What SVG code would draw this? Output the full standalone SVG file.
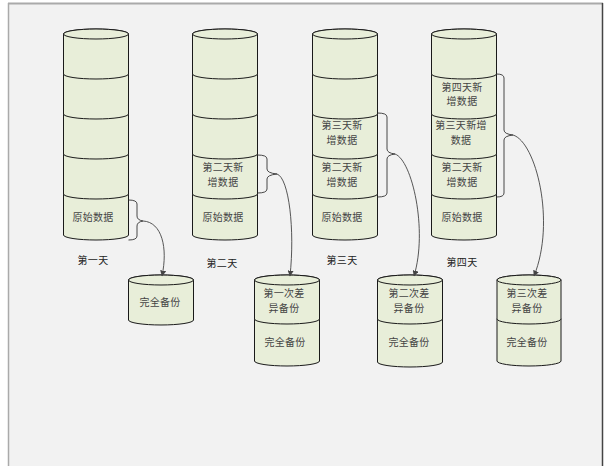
<svg xmlns="http://www.w3.org/2000/svg" width="613" height="470" viewBox="0 0 613 470">
<style>
.seg{fill:#e8eed9;stroke:#1a1a1a;stroke-width:1}
.top{fill:#e8eed9;stroke:#1a1a1a;stroke-width:1}
.t{font-family:"Noto Sans CJK SC","Liberation Sans",sans-serif;font-size:10px;letter-spacing:0.3px;fill:#444;text-anchor:middle}
.lbl{font-family:"Noto Sans CJK SC","Liberation Sans",sans-serif;font-size:10px;letter-spacing:0.3px;fill:#222;text-anchor:middle}
.br{fill:none;stroke:#333;stroke-width:0.9}
.cn{fill:none;stroke:#444;stroke-width:0.9;marker-end:url(#ah)}
</style>
<defs>
<marker id="ah" viewBox="0 0 10 10" refX="9" refY="5" markerWidth="6" markerHeight="6" orient="auto" markerUnits="userSpaceOnUse">
<path d="M0,0 L10,5 L0,10 Z" fill="#444"/>
</marker>
</defs>
<rect x="0" y="0" width="613" height="470" fill="#ffffff"/>
<rect x="8" y="3" width="595" height="463" fill="#f2f2f2"/>
<line x1="8" y1="3.5" x2="603" y2="3.5" stroke="#aaaaaa" stroke-width="2"/>
<line x1="8.5" y1="3" x2="8.5" y2="466" stroke="#aaaaaa" stroke-width="1.5"/>
<line x1="602.5" y1="3" x2="602.5" y2="466" stroke="#444444" stroke-width="1.5"/>

<g id="day1">
<path class="seg" d="M63.5,194 L63.5,235 A32.5,5 0 0 0 128.5,235 L128.5,194 A32.5,5 0 0 0 63.5,194 Z"/>
<path class="seg" d="M63.5,154 L63.5,194 A32.5,5 0 0 0 128.5,194 L128.5,154 A32.5,5 0 0 0 63.5,154 Z"/>
<path class="seg" d="M63.5,114 L63.5,154 A32.5,5 0 0 0 128.5,154 L128.5,114 A32.5,5 0 0 0 63.5,114 Z"/>
<path class="seg" d="M63.5,74 L63.5,114 A32.5,5 0 0 0 128.5,114 L128.5,74 A32.5,5 0 0 0 63.5,74 Z"/>
<path class="seg" d="M63.5,34 L63.5,74 A32.5,5 0 0 0 128.5,74 L128.5,34 A32.5,5 0 0 0 63.5,34 Z"/>
<ellipse class="top" cx="96" cy="34" rx="32.5" ry="5"/>
<text class="t" x="93" y="221">原始数据</text>
<text class="lbl" x="93" y="264">第一天</text>
</g>

<g id="day2">
<path class="seg" d="M192.5,194 L192.5,235 A32.5,5 0 0 0 257.5,235 L257.5,194 A32.5,5 0 0 0 192.5,194 Z"/>
<path class="seg" d="M192.5,154 L192.5,194 A32.5,5 0 0 0 257.5,194 L257.5,154 A32.5,5 0 0 0 192.5,154 Z"/>
<path class="seg" d="M192.5,114 L192.5,154 A32.5,5 0 0 0 257.5,154 L257.5,114 A32.5,5 0 0 0 192.5,114 Z"/>
<path class="seg" d="M192.5,74 L192.5,114 A32.5,5 0 0 0 257.5,114 L257.5,74 A32.5,5 0 0 0 192.5,74 Z"/>
<path class="seg" d="M192.5,34 L192.5,74 A32.5,5 0 0 0 257.5,74 L257.5,34 A32.5,5 0 0 0 192.5,34 Z"/>
<ellipse class="top" cx="225" cy="34" rx="32.5" ry="5"/>
<text class="t" x="223" y="171">第二天新</text>
<text class="t" x="223" y="186">增数据</text>
<text class="t" x="223" y="221">原始数据</text>
<text class="lbl" x="222" y="267">第二天</text>
</g>

<g id="day3">
<path class="seg" d="M312.5,194 L312.5,235 A32.5,5 0 0 0 377.5,235 L377.5,194 A32.5,5 0 0 0 312.5,194 Z"/>
<path class="seg" d="M312.5,154 L312.5,194 A32.5,5 0 0 0 377.5,194 L377.5,154 A32.5,5 0 0 0 312.5,154 Z"/>
<path class="seg" d="M312.5,114 L312.5,154 A32.5,5 0 0 0 377.5,154 L377.5,114 A32.5,5 0 0 0 312.5,114 Z"/>
<path class="seg" d="M312.5,74 L312.5,114 A32.5,5 0 0 0 377.5,114 L377.5,74 A32.5,5 0 0 0 312.5,74 Z"/>
<path class="seg" d="M312.5,34 L312.5,74 A32.5,5 0 0 0 377.5,74 L377.5,34 A32.5,5 0 0 0 312.5,34 Z"/>
<ellipse class="top" cx="345" cy="34" rx="32.5" ry="5"/>
<text class="t" x="342" y="129">第三天新</text>
<text class="t" x="342" y="143.5">增数据</text>
<text class="t" x="342" y="171">第二天新</text>
<text class="t" x="342" y="186">增数据</text>
<text class="t" x="342" y="221">原始数据</text>
<text class="lbl" x="342" y="264">第三天</text>
</g>

<g id="day4">
<path class="seg" d="M431.5,194 L431.5,235 A32.5,5 0 0 0 496.5,235 L496.5,194 A32.5,5 0 0 0 431.5,194 Z"/>
<path class="seg" d="M431.5,154 L431.5,194 A32.5,5 0 0 0 496.5,194 L496.5,154 A32.5,5 0 0 0 431.5,154 Z"/>
<path class="seg" d="M431.5,114 L431.5,154 A32.5,5 0 0 0 496.5,154 L496.5,114 A32.5,5 0 0 0 431.5,114 Z"/>
<path class="seg" d="M431.5,74 L431.5,114 A32.5,5 0 0 0 496.5,114 L496.5,74 A32.5,5 0 0 0 431.5,74 Z"/>
<path class="seg" d="M431.5,34 L431.5,74 A32.5,5 0 0 0 496.5,74 L496.5,34 A32.5,5 0 0 0 431.5,34 Z"/>
<ellipse class="top" cx="464" cy="34" rx="32.5" ry="5"/>
<text class="t" x="462" y="91">第四天新</text>
<text class="t" x="462" y="105">增数据</text>
<text class="t" x="461" y="129">第三天新增</text>
<text class="t" x="461" y="143.5">数据</text>
<text class="t" x="462" y="171">第二天新</text>
<text class="t" x="462" y="186">增数据</text>
<text class="t" x="462" y="221">原始数据</text>
<text class="lbl" x="462" y="266">第四天</text>
</g>

<g id="backup1">
<path class="seg" d="M128.5,280 L128.5,320 A32.5,5 0 0 0 193.5,320 L193.5,280 A32.5,5 0 0 0 128.5,280 Z"/>
<ellipse class="top" cx="161" cy="280" rx="32.5" ry="5"/>
<text class="t" x="160" y="306">完全备份</text>
</g>

<g id="backup2">
<path class="seg" d="M254.5,319 L254.5,361 A32.5,5 0 0 0 319.5,361 L319.5,319 A32.5,5 0 0 0 254.5,319 Z"/>
<path class="seg" d="M254.5,280 L254.5,319 A32.5,5 0 0 0 319.5,319 L319.5,280 A32.5,5 0 0 0 254.5,280 Z"/>
<ellipse class="top" cx="287" cy="280" rx="32.5" ry="5"/>
<text class="t" x="284" y="297">第一次差</text>
<text class="t" x="284" y="312">异备份</text>
<text class="t" x="285" y="346">完全备份</text>
</g>

<g id="backup3">
<path class="seg" d="M377.5,319 L377.5,362 A32.5,5 0 0 0 442.5,362 L442.5,319 A32.5,5 0 0 0 377.5,319 Z"/>
<path class="seg" d="M377.5,280 L377.5,319 A32.5,5 0 0 0 442.5,319 L442.5,280 A32.5,5 0 0 0 377.5,280 Z"/>
<ellipse class="top" cx="410" cy="280" rx="32.5" ry="5"/>
<text class="t" x="409" y="297">第二次差</text>
<text class="t" x="409" y="312">异备份</text>
<text class="t" x="409" y="346">完全备份</text>
</g>

<g id="backup4">
<path class="seg" d="M497,319 L497,361 A32,5 0 0 0 561,361 L561,319 A32,5 0 0 0 497,319 Z"/>
<path class="seg" d="M497,280 L497,319 A32,5 0 0 0 561,319 L561,280 A32,5 0 0 0 497,280 Z"/>
<ellipse class="top" cx="529" cy="280" rx="32" ry="5"/>
<text class="t" x="527" y="297">第三次差</text>
<text class="t" x="527" y="312">异备份</text>
<text class="t" x="527" y="346">完全备份</text>
</g>

<g id="connectors">
<path class="br" d="M128.5,200 Q137,200 137,204 L137,216 Q137,220 143,221 Q137,222 137,226 L137,236 Q137,240 128.5,240"/>
<path class="br" d="M257.5,155 Q267,155 267,159 L267,169 Q267,173 277,174 Q267,175 267,179 L267,189 Q267,193 257.5,193"/>
<path class="br" d="M377.5,113 Q387,113 387,117 L387,149 Q387,153 395,154 Q387,155 387,159 L387,193 Q387,197 377.5,197"/>
<path class="br" d="M496.5,74 Q504,74 504,78 L504,130 Q504,134 513,135 Q504,136 504,140 L504,193 Q504,197 496.5,197"/>
<path class="cn" d="M143,221 C162,222 168,248 162,276"/>
<path class="cn" d="M277,174 C289,178 295,230 290,276"/>
<path class="cn" d="M395,154 C412,160 428,230 414,276"/>
<path class="cn" d="M513,135 C536,142 556,222 534,276"/>
</g>
</svg>
